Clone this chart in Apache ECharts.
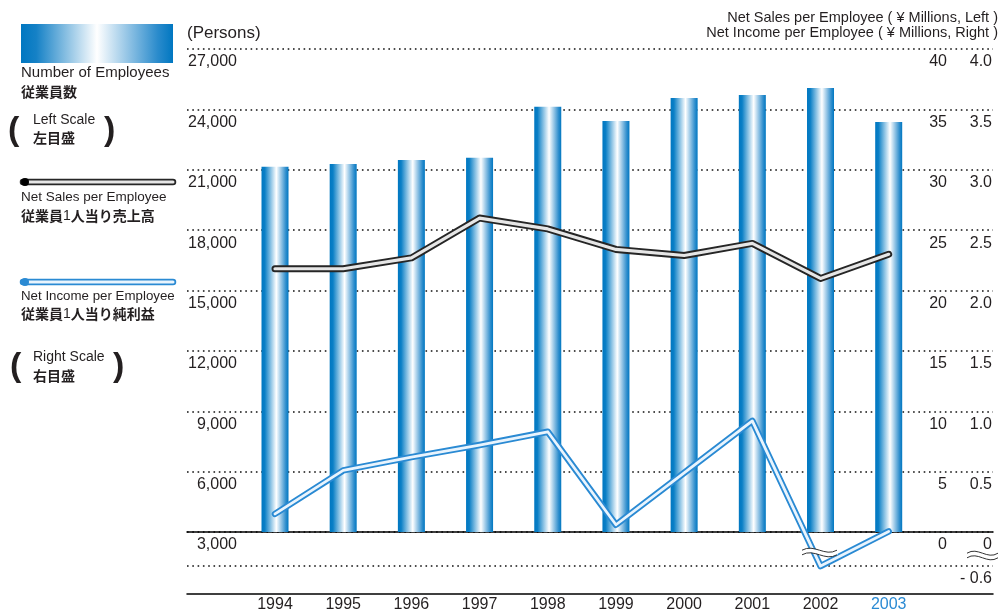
<!DOCTYPE html>
<html>
<head>
<meta charset="utf-8">
<script src="https://cdn.jsdelivr.net/npm/echarts@6/dist/echarts.min.js"></script>
<style>html,body{margin:0;padding:0;background:#fff}#c{width:1001px;height:613px}</style>
</head>
<body>
<div id="c"></div>
<script>
// ---- data ----
const years = [1994, 1995, 1996, 1997, 1998, 1999, 2000, 2001, 2002, 2003];
const employees = [21150, 21290, 21480, 21600, 24130, 23420, 24570, 24710, 25060, 23370];
const salesPerEmployee = [21.8, 21.8, 22.7, 26.0, 25.1, 23.4, 22.9, 23.9, 21.0, 23.0];
const incomePerEmployee = [0.15, 0.51, 0.62, 0.72, 0.83, 0.06, 0.49, 0.92, -0.60, 0.005];
const incomeTicks = [-0.6, 0, 0.5, 1.0, 1.5, 2.0, 2.5, 3.0, 3.5, 4.0];
const highlightYear = 2003;

// ---- styling / scale helpers ----
const FONT = '"Liberation Sans", Arial, Helvetica, sans-serif';
const CJK = '"Noto Sans CJK JP", sans-serif';
const INK = '#231f20';
const BLUE = '#2a8ad3';
const xMin = 1992.7095, xMax = 2004.5296;
const incomeBreak = 0.47;        // compression of the broken part below zero
const incomeAxisMin = -0.5135;
const showIncome = v => (v < 0 ? v * incomeBreak : v);
const dotted = { color: '#111', width: 1.6, type: [1.6, 3.7] };

const barGrad = new echarts.graphic.LinearGradient(0, 0, 1, 0, [
  { offset: 0, color: '#0077c1' },
  { offset: 0.12, color: '#0a7fc6' },
  { offset: 0.55, color: '#ffffff' },
  { offset: 0.9, color: '#2f8ecd' },
  { offset: 1, color: '#0077c1' }
]);
const legendGrad = new echarts.graphic.LinearGradient(0, 0, 1, 0, [
  { offset: 0, color: '#0077c1' },
  { offset: 0.1, color: '#1581c6' },
  { offset: 0.5, color: '#ffffff' },
  { offset: 0.9, color: '#2a8bcc' },
  { offset: 1, color: '#0077c1' }
]);

const labelBase = { fontSize: 16, fontFamily: FONT, color: INK };

function txt(text, x, y, font, opts) {
  return Object.assign({
    type: 'text', z: 50,
    style: Object.assign({
      text, x, y, font, fill: INK,
      textAlign: 'left', textVerticalAlign: 'middle', align: 'left', verticalAlign: 'middle'
    }, opts || {})
  });
}
function jpMixed(pre, post, x, y) {
  return {
    type: 'text', z: 50,
    style: {
      text: '{b|' + pre + '}{n|1}{b|' + post + '}', x, y,
      textAlign: 'left', textVerticalAlign: 'middle', align: 'left', verticalAlign: 'middle',
      rich: {
        b: { font: 'bold 14px ' + CJK, fill: INK, color: INK },
        n: { font: '14px ' + FONT, fill: INK, color: INK }
      }
    }
  };
}
function legendLine(y, outer, inner, dot) {
  return [
    { type: 'line', z: 50, shape: { x1: 23, y1: y, x2: 173, y2: y }, style: { stroke: outer, lineWidth: 6.5, lineCap: 'round' } },
    { type: 'line', z: 51, shape: { x1: 23, y1: y, x2: 173, y2: y }, style: { stroke: inner, lineWidth: 3, lineCap: 'round' } },
    { type: 'circle', z: 52, shape: { cx: 25, cy: y, r: 4 }, style: { fill: dot } }
  ];
}
function breakMark(x, y, w) {
  const s = (dy, stroke, lw) => ({
    type: 'bezierCurve', z: 100,
    shape: { x1: x, y1: y + dy, cpx1: x + w * 0.35, cpy1: y + dy - 7, cpx2: x + w * 0.65, cpy2: y + dy + 7, x2: x + w, y2: y + dy },
    style: { stroke, lineWidth: lw, fill: null }
  });
  return [s(0, '#fff', 4), s(-2.3, '#333', 1), s(2.3, '#333', 1)];
}

const graphics = [
  { type: 'rect', z: 50, shape: { x: 21, y: 24, width: 152, height: 39 }, style: { fill: legendGrad } },
  txt('Number of Employees', 21, 73, '15px ' + FONT),
  txt('従業員数', 21, 92, 'bold 14px ' + CJK),
  txt('(', 8, 131, 'bold 34px ' + FONT),
  txt('Left Scale', 33, 120, '14px ' + FONT),
  txt('左目盛', 33, 138, 'bold 14px ' + CJK),
  txt(')', 104, 131, 'bold 34px ' + FONT),
  ...legendLine(182, '#262626', '#e6e6e6', '#000'),
  txt('Net Sales per Employee', 21, 197, '13.5px ' + FONT),
  jpMixed('従業員', '人当り売上高', 21, 216),
  ...legendLine(282, '#2a8ad3', '#e9f4fd', '#2a8ad3'),
  txt('Net Income per Employee', 21, 296, '13.3px ' + FONT),
  jpMixed('従業員', '人当り純利益', 21, 314),
  txt('(', 10, 367, 'bold 34px ' + FONT),
  txt('Right Scale', 33, 357, '14px ' + FONT),
  txt('右目盛', 33, 376, 'bold 14px ' + CJK),
  txt(')', 113, 367, 'bold 34px ' + FONT),
  txt('(Persons)', 187, 33, '17px ' + FONT),
  txt('Net Sales per Employee ( ¥ Millions, Left )', 998, 18, '14.5px ' + FONT, { textAlign: 'right', align: 'right' }),
  txt('Net Income per Employee ( ¥ Millions, Right )', 998, 33, '14.5px ' + FONT, { textAlign: 'right', align: 'right' }),
  ...breakMark(967, 555.5, 31),
  ...breakMark(802, 552.5, 35)
];

const chart = echarts.init(document.getElementById('c'), null, { renderer: 'canvas', width: 1001, height: 613 });
chart.setOption({
  animation: false,
  backgroundColor: '#fff',
  grid: [
    { left: 187, right: 8, top: 49, height: 483, containLabel: false },
    { left: 187, right: 8, top: 49, height: 545, containLabel: false }
  ],
  xAxis: [
    {
      gridIndex: 0, type: 'value', min: xMin, max: xMax,
      axisLine: { show: true, onZero: false, lineStyle: { color: '#000', width: 1.5 } },
      axisTick: { show: false }, axisLabel: { show: false }, splitLine: { show: false }
    },
    {
      gridIndex: 1, type: 'value', min: xMin, max: xMax,
      axisLine: { show: true, onZero: false, lineStyle: { color: '#000', width: 1.5 } },
      axisTick: { show: false }, splitLine: { show: false },
      axisLabel: {
        customValues: years, margin: 3, fontSize: 16, fontFamily: FONT, color: INK,
        formatter: v => (v === highlightYear ? '{h|' + v + '}' : '{n|' + v + '}'),
        rich: {
          n: { fontSize: 16, fontFamily: FONT, color: INK },
          h: { fontSize: 16, fontFamily: FONT, color: BLUE }
        }
      }
    }
  ],
  yAxis: [
    {
      gridIndex: 0, type: 'value', min: 3000, max: 27000, interval: 3000, position: 'left',
      axisLine: { show: false }, axisTick: { show: false },
      axisLabel: Object.assign({
        inside: true, margin: 50, align: 'right', verticalAlign: 'top', padding: [5, 0, 0, 0],
        showMinLabel: true, showMaxLabel: true,
        formatter: v => v.toLocaleString('en-US')
      }, labelBase),
      splitLine: { show: true, lineStyle: dotted }
    },
    {
      gridIndex: 0, type: 'value', min: 0, max: 40, interval: 5, position: 'right',
      axisLine: { show: false }, axisTick: { show: false }, splitLine: { show: false },
      axisLabel: Object.assign({
        inside: true, margin: 46, align: 'right', verticalAlign: 'top', padding: [5, 0, 0, 0],
        showMinLabel: true, showMaxLabel: true
      }, labelBase)
    },
    {
      gridIndex: 1, type: 'value', min: incomeAxisMin, max: 4, position: 'right',
      axisLine: { show: false }, axisTick: { show: false }, splitLine: { show: false },
      axisLabel: Object.assign({
        inside: true, margin: 1, align: 'right', verticalAlign: 'top', padding: [5, 0, 0, 0],
        customValues: incomeTicks.map(showIncome),
        formatter: v => {
          if (v < 0) return '- ' + (-v / incomeBreak).toFixed(1);
          if (Math.abs(v) < 1e-9) return '0';
          return v.toFixed(1);
        }
      }, labelBase)
    }
  ],
  series: [
    {
      type: 'bar', xAxisIndex: 0, yAxisIndex: 0, barWidth: 27,
      data: years.map((y, i) => [y, employees[i]]),
      itemStyle: { color: barGrad }
    },
    {
      type: 'line', xAxisIndex: 0, yAxisIndex: 1, symbol: 'none', z: 3,
      data: years.map((y, i) => [y, salesPerEmployee[i]]),
      lineStyle: { color: '#262626', width: 7, cap: 'round', join: 'round' }
    },
    {
      type: 'line', xAxisIndex: 0, yAxisIndex: 1, symbol: 'none', z: 4,
      data: years.map((y, i) => [y, salesPerEmployee[i]]),
      lineStyle: { color: '#e6e6e6', width: 3.2, cap: 'round', join: 'round' }
    },
    {
      type: 'line', xAxisIndex: 1, yAxisIndex: 2, symbol: 'none', z: 5,
      data: years.map((y, i) => [y, showIncome(incomePerEmployee[i])]),
      lineStyle: { color: '#2a8ad3', width: 6.5, cap: 'round', join: 'round' },
      markLine: {
        silent: true, symbol: ['none', 'none'], label: { show: false },
        lineStyle: dotted,
        data: [{ yAxis: showIncome(incomeTicks[0]) }]
      }
    },
    {
      type: 'line', xAxisIndex: 1, yAxisIndex: 2, symbol: 'none', z: 6,
      data: years.map((y, i) => [y, showIncome(incomePerEmployee[i])]),
      lineStyle: { color: '#e9f4fd', width: 2.8, cap: 'round', join: 'round' }
    }
  ],
  graphic: { elements: graphics }
});
</script>
</body>
</html>
